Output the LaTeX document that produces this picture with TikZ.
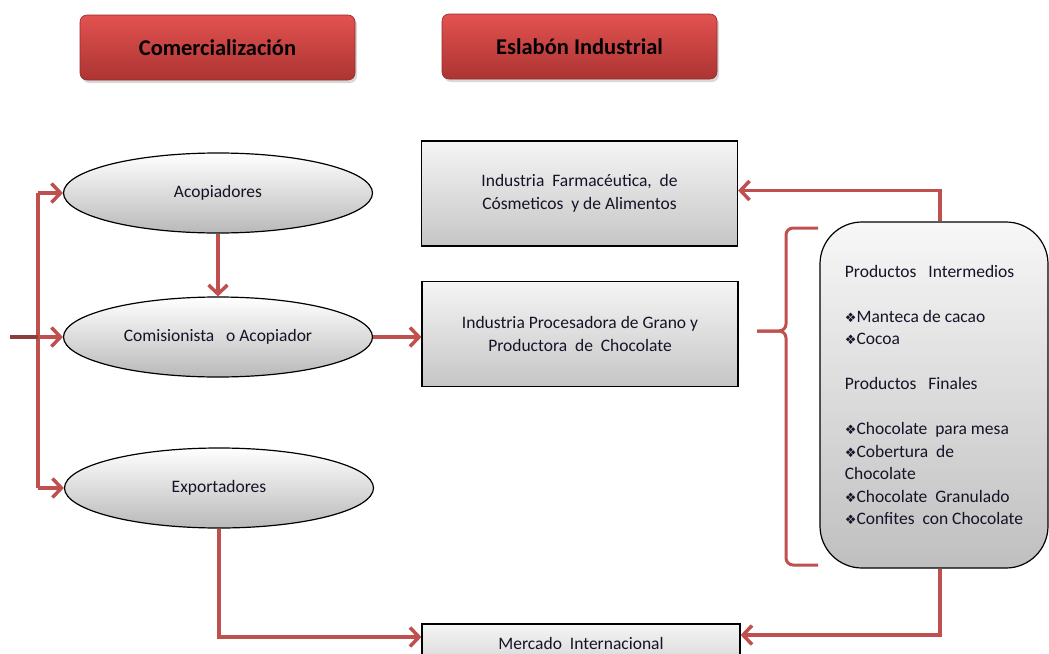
\documentclass[tikz,border=0pt]{standalone}
\usepackage{fontspec}
\setmainfont{Carlito}
\newfontfamily\dv{DejaVu Sans}
\usetikzlibrary{arrows.meta,shadows,shapes.geometric}
\definecolor{arr}{RGB}{192,80,77}
\definecolor{arrdark}{RGB}{140,60,58}
\definecolor{hdrtop}{RGB}{226,82,80}
\definecolor{hdrbot}{RGB}{172,52,50}
\definecolor{txt}{RGB}{20,20,40}
\newcommand\bul{{\dv\fontsize{13}{13}\selectfont ❖}}
\begin{document}
\begin{tikzpicture}[x=1pt,y=-1pt,
  every node/.style={font=\fontsize{17.5}{22.5}\selectfont, text=txt},
  hdr/.style={rectangle, rounded corners=7pt, top color=hdrtop, bottom color=hdrbot,
    draw=hdrbot!85!black, line width=0.6pt, minimum width=275pt, minimum height=65pt,
    drop shadow={opacity=0.3, shadow xshift=2pt, shadow yshift=-3pt},
    font=\bfseries\fontsize{22.5}{26}\selectfont, text=black},
  oval/.style={ellipse, draw=black, line width=1.2pt, inner sep=0pt,
    top color=white, bottom color=gray!55, minimum width=309pt, minimum height=80pt},
  box/.style={rectangle, draw=black, line width=1.2pt, inner sep=0pt,
    top color=gray!8, bottom color=gray!45, minimum width=316pt, minimum height=105pt, align=center},
  link/.style={draw=arr, line width=3.5pt},
  flow/.style={link, -{Straight Barb[length=9pt,width=19pt]}}
]
\clip (0,0) rectangle (1049,653);
\fill[white] (0,0) rectangle (1049,653);

% headers
\node[hdr] (h1) at (217.5,47.5) {Comercialización};
\node[hdr] (h2) at (579.5,46.5) {Eslabón Industrial};

% ellipses
\node[oval] (aco) at (218,193) {Acopiadores};
\node[oval] (com) at (218,337) {Comisionista\ \ \ o Acopiador};
\node[oval] (exp) at (219,488) {Exportadores};

% boxes
\node[box] (farm) at (579.5,193.5) {Industria\ \ Farmacéutica,\ \ de\\Cósmeticos\ \ y de Alimentos};
\node[box] (proc) at (580,334) {Industria\ Procesadora\ de Grano\ y\\Productora\ \ de\ \ Chocolate};
\node[box, minimum width=318pt, minimum height=38pt, top color=gray!8, bottom color=gray!30] (merc) at (581,643) {Mercado\ \ Internacional};

% products box
\node[rectangle, rounded corners=42pt, draw=black, line width=1.2pt,
  top color=gray!6, bottom color=gray!50, minimum width=228pt, minimum height=346pt,
  align=left, inner sep=0pt] (prod) at (934,395)
  {Productos\ \ \ Intermedios\\[22.5pt]
   \bul Manteca de cacao\\
   \bul Cocoa\\[22.5pt]
   Productos\ \ \ Finales\\[22.5pt]
   \bul Chocolate\ \ para mesa\\
   \bul Cobertura\ \ de\\
   Chocolate\\
   \bul Chocolate\ \ Granulado\\
   \bul Confites\ \ con Chocolate};

% left trunk
\coordinate (in) at (10,337);
\coordinate (j) at (38,337);
\coordinate (t1) at (38,193);
\coordinate (t3) at (38,488);
\draw[link] (t1) -- (t3);
\draw[draw=arrdark, line width=3.5pt] (in) -- (j);
\draw[flow] (t1) -- (aco.west);
\draw[flow] (j) -- (com.west);
\draw[flow] (t3) -- (exp.west);

% inner connectors
\draw[flow] (aco.south) -- (com.north);
\draw[flow] (com.east) -- (com.east -| proc.west);
\draw[flow] (exp.south) |- ([yshift=6pt]merc.west);
\draw[flow] ([xshift=6pt]prod.south) |- ([yshift=8pt]merc.east);
\draw[flow] ([xshift=6pt]prod.north) |- ([yshift=3pt]farm.east);

% brace
\coordinate (bt) at (818,228);
\coordinate (bm) at (757,331);
\coordinate (bb) at (818,565);
\draw[link, line width=3pt, rounded corners=7pt] (bt) -- (786,228) -- (786,331) -- (bm);
\draw[link, line width=3pt, rounded corners=7pt] (bm) -- (786,331) -- (786,565) -- (bb);
\end{tikzpicture}
\end{document}
